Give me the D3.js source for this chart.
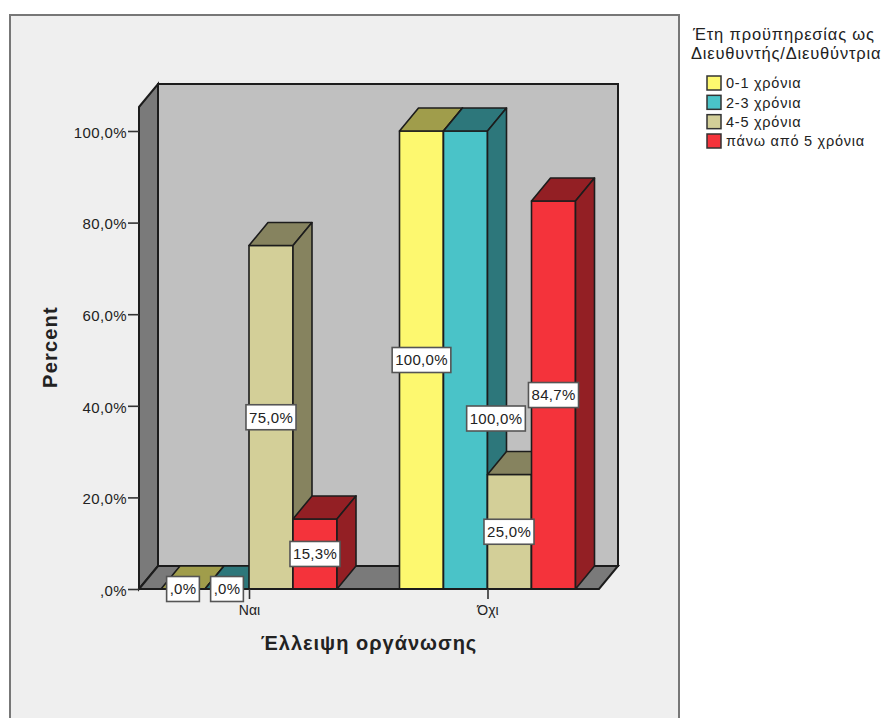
<!DOCTYPE html>
<html>
<head>
<meta charset="utf-8">
<script src="https://cdn.jsdelivr.net/npm/d3@7"></script>
<style>
  html, body { margin: 0; padding: 0; background: #fff; }
  svg { display: block; }
  text { font-family: "Liberation Sans", Arial, sans-serif; fill: #222; }
</style>
</head>
<body>
<svg id="chart" width="884" height="718"></svg>
<script>
// Chart content
const categories = ["Ναι", "Όχι"];
const seriesNames = ["0-1 χρόνια", "2-3 χρόνια", "4-5 χρόνια", "πάνω από 5 χρόνια"];
const valuesNai = [0, 0, 75.0, 15.3];
const valuesOxi = [100.0, 100.0, 25.0, 84.7];
const percentTicks = [0, 20, 40, 60, 80, 100];
const legendTitleLines = ["Έτη προϋπηρεσίας ως", "Διευθυντής/Διευθύντρια"];
const xAxisTitle = "Έλλειψη οργάνωσης";
const yAxisTitle = "Percent";

// Face colours per series
const frontColors = ["#fdf86f", "#4ac3c8", "#d3cf98", "#f4333b"];
const darkColors = ["#a09d4b", "#2d777b", "#86835f", "#931f24"];

const svg = d3.select("#chart");

// Box geometry: front plane plus the oblique depth offset
const depthX = 19, depthY = -23;
const plotLeft = 139, plotRight = 599;

const y = d3.scaleLinear().domain([0, 105.24]).range([589, 107]);
const x = d3.scalePoint().domain(categories).range([249, 487.5]);
const inner = d3.scaleBand().domain(seriesNames).range([-88, 88]);

const percentLabel = v => (v.toFixed(1) + "%").replace(".", ",").replace(/^0,/, ",");
const poly = pts => pts.map(p => p.join(",")).join(" ");
const INK = "#1c1c1c";
const FONT = "'Liberation Sans', Arial, sans-serif";

// Outer chart panel, open past the bottom edge of the page
svg.append("rect")
  .attr("x", 10).attr("y", 15).attr("width", 669).attr("height", 760)
  .attr("fill", "#efefef").attr("stroke", "#777").attr("stroke-width", 2);

// Box walls and floor
const y0 = y(0), yTop = y.range()[1];
svg.append("polygon")
  .attr("points", poly([[plotLeft + depthX, yTop + depthY], [plotRight + depthX, yTop + depthY],
                        [plotRight + depthX, y0 + depthY], [plotLeft + depthX, y0 + depthY]]))
  .attr("fill", "#c0c0c0").attr("stroke", INK).attr("stroke-width", 2);
svg.append("polygon")
  .attr("points", poly([[plotLeft, yTop], [plotLeft + depthX, yTop + depthY],
                        [plotLeft + depthX, y0 + depthY], [plotLeft, y0]]))
  .attr("fill", "#7a7a7a").attr("stroke", INK).attr("stroke-width", 2);
svg.append("polygon")
  .attr("points", poly([[plotLeft, y0], [plotLeft + depthX, y0 + depthY],
                        [plotRight + depthX, y0 + depthY], [plotRight, y0]]))
  .attr("fill", "#7a7a7a").attr("stroke", INK).attr("stroke-width", 2);

// Bars: one record per category and series, painted left to right
const bars = categories.flatMap((c, ci) =>
  (ci === 0 ? valuesNai : valuesOxi).map((v, si) => ({ c, si, v, name: seriesNames[si] })));

const bar = svg.append("g").selectAll("g").data(bars).join("g")
  .attr("stroke", INK).attr("stroke-width", 1.6).attr("stroke-linejoin", "round");

const bx0 = d => x(d.c) + inner(d.name);
const bx1 = d => bx0(d) + inner.bandwidth();

bar.append("rect")
  .attr("x", bx0).attr("y", d => y(d.v))
  .attr("width", inner.bandwidth()).attr("height", d => y0 - y(d.v))
  .attr("fill", d => frontColors[d.si]);
bar.append("polygon")
  .attr("points", d => poly([[bx0(d), y(d.v)], [bx0(d) + depthX, y(d.v) + depthY],
                             [bx1(d) + depthX, y(d.v) + depthY], [bx1(d), y(d.v)]]))
  .attr("fill", d => darkColors[d.si]);
bar.append("polygon")
  .attr("points", d => poly([[bx1(d), y(d.v)], [bx1(d) + depthX, y(d.v) + depthY],
                             [bx1(d) + depthX, y0 + depthY], [bx1(d), y0]]))
  .attr("fill", d => darkColors[d.si]);

// Front baseline drawn over the bar feet
svg.append("line")
  .attr("x1", plotLeft).attr("x2", plotRight).attr("y1", y0).attr("y2", y0)
  .attr("stroke", INK).attr("stroke-width", 2);

// Value axis
const yAxis = svg.append("g")
  .attr("transform", `translate(${plotLeft},0)`)
  .call(d3.axisLeft(y).tickValues(percentTicks).tickFormat(percentLabel).tickSize(11).tickPadding(1));
yAxis.select(".domain").remove();
yAxis.selectAll("line").attr("stroke", "#333").attr("stroke-width", 1.6);
yAxis.selectAll("text").attr("font-size", 15).attr("dy", "0.42em").style("font-family", FONT)
  .style("letter-spacing", "0.4px").attr("fill", "#2b2b2b");

// Category axis
const xAxis = svg.append("g")
  .attr("transform", `translate(0,${y0})`)
  .call(d3.axisBottom(x).tickSize(10).tickPadding(6));
xAxis.select(".domain").remove();
xAxis.selectAll("line").attr("stroke", "#333").attr("stroke-width", 1.6);
xAxis.selectAll("text").attr("font-size", 14).style("font-family", FONT).attr("fill", "#2b2b2b");

// Value labels sit at mid-bar; a few are pushed sideways or down so they stay legible
const labelNudge = { "Όχι|1": [30.5, 58.5], "Όχι|2": [-0.5, 0] };
const labels = svg.append("g").selectAll("g").data(bars).join("g")
  .attr("transform", d => {
    const n = labelNudge[d.c + "|" + d.si] || [0, 0];
    return `translate(${(bx0(d) + bx1(d)) / 2 + n[0]},${y(d.v / 2) + n[1]})`;
  });
labels.each(function (d) {
  const g = d3.select(this);
  const t = g.append("text").attr("text-anchor", "middle").attr("dy", "0.36em")
    .attr("font-size", 15).style("letter-spacing", "0.3px").attr("fill", "#222").text(percentLabel(d.v));
  const w = t.node().getComputedTextLength() + 6;
  g.insert("rect", "text")
    .attr("x", -w / 2).attr("y", -12.5).attr("width", w).attr("height", 25)
    .attr("fill", "#fff").attr("stroke", "#555").attr("stroke-width", 1.6);
});

// Axis titles
svg.append("text")
  .attr("x", 369).attr("y", 650).attr("text-anchor", "middle")
  .attr("font-size", 20).style("letter-spacing", "1px")
  .attr("font-weight", "bold").attr("fill", "#111").text(xAxisTitle);
svg.append("text")
  .attr("transform", "translate(57,347) rotate(-90)").attr("text-anchor", "middle")
  .attr("font-size", 20).style("letter-spacing", "1.2px")
  .attr("font-weight", "bold").attr("fill", "#111").text(yAxisTitle);

// Legend
const legendTitle = svg.append("g");
legendTitleLines.forEach((line, i) => {
  legendTitle.append("text")
    .attr("x", i === 0 ? 693 : 691).attr("y", 40 + i * 19)
    .attr("font-size", 16.5).style("letter-spacing", "0.82px")
    .attr("fill", "#2b2b2b").text(line);
});
const rowY = d3.scalePoint().domain(seriesNames).range([83, 141]);
const legendRow = svg.append("g").selectAll("g").data(seriesNames).join("g")
  .attr("transform", d => `translate(0,${rowY(d)})`);
legendRow.append("rect")
  .attr("x", 707).attr("y", -7).attr("width", 14).attr("height", 14)
  .attr("fill", (d, i) => frontColors[i]).attr("stroke", "#333").attr("stroke-width", 1.5);
legendRow.append("text")
  .attr("x", 726).attr("dy", "0.36em")
  .attr("font-size", 14.5).style("letter-spacing", "0.75px")
  .attr("fill", "#2b2b2b").text(d => d);
</script>
</body>
</html>
